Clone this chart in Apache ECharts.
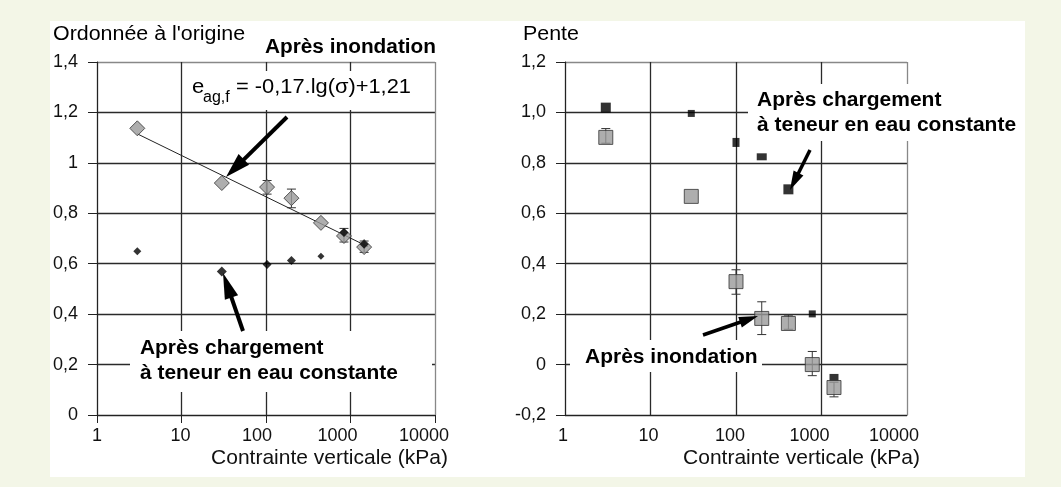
<!DOCTYPE html>
<html>
<head>
<meta charset="utf-8">
<script src="https://cdn.jsdelivr.net/npm/echarts@6/dist/echarts.min.js"></script>
<style>
html, body { margin: 0; padding: 0; background: #f3f6e7; }
#fond { position: absolute; left: 50px; top: 21px; width: 975px; height: 456px; background: #fff; }
#main { position: absolute; left: 0; top: 0; width: 1061px; height: 487px; }
</style>
</head>
<body>
<div id="fond"></div>
<div id="main"></div>
<script>
// contrainte verticale (kPa), lue sur chaque graphique
var sigmaGauche = [3, 30, 103, 200, 447, 837, 1450];
var sigmaDroite = [3, 30, 100, 200, 410, 780, 1400];

// ordonnee a l'origine
var ordInondation = [1.137, 0.920, 0.904, 0.860, 0.762, 0.710, 0.666];
var ordInondBas   = [null, null, 0.876, 0.822, null, 0.686, 0.645];
var ordInondHaut  = [null, null, 0.930, 0.896, null, 0.740, 0.690];
var ordChargement = [0.649, 0.569, 0.597, 0.613, 0.630, 0.724, 0.677];
var ordChargTaille = [8, 10, 9, 9, 7, 9, 9];
// droite de regression e = -0,17.lg(sigma)+1,21
var droiteX = [3, 1600];
var droiteY = [1.115, 0.668];

// pente
var penteInondation = [0.901, 0.667, 0.329, 0.183, 0.163, 0.0, -0.091];
var penteInondBas   = [0.878, null, 0.279, 0.119, 0.140, -0.044, -0.128];
var penteInondHaut  = [0.936, null, 0.376, 0.249, 0.196, 0.052, -0.070];
var penteChargement = [1.019, 0.996, 0.881, 0.824, 0.695, 0.201, -0.051];
var penteChargTaille = [[10, 10], [7, 7], [7, 9], [10, 7], [10, 10], [7, 7], [9, 7]];

// graduations
var xLabels = ['1', '10', '100', '1000', '10000'];
var ordLabels = ['0', '0,2', '0,4', '0,6', '0,8', '1', '1,2', '1,4'];
var penteLabels = ['-0,2', '0', '0,2', '0,4', '0,6', '0,8', '1,0', '1,2'];

var police = 'Liberation Sans, Arial, Helvetica, sans-serif';

function points(xs, ys, tailles) {
    var out = [];
    for (var i = 0; i < xs.length; i++) {
        var d = { value: [xs[i], ys[i]] };
        if (tailles) d.symbolSize = tailles[i];
        out.push(d);
    }
    return out;
}

function erreurs(xs, bas, haut) {
    var out = [];
    for (var i = 0; i < xs.length; i++) {
        if (bas[i] !== null) out.push([xs[i], bas[i], haut[i]]);
    }
    return out;
}

function barreErreur(params, api) {
    var x = api.value(0);
    var h = api.coord([x, api.value(2)]);
    var b = api.coord([x, api.value(1)]);
    var w = 4.5;
    var st = { stroke: '#333', lineWidth: 1 };
    return {
        type: 'group',
        children: [
            { type: 'line', shape: { x1: h[0], y1: h[1], x2: b[0], y2: b[1] }, style: st },
            { type: 'line', shape: { x1: h[0] - w, y1: h[1], x2: h[0] + w, y2: h[1] }, style: st },
            { type: 'line', shape: { x1: b[0] - w, y1: b[1], x2: b[0] + w, y2: b[1] }, style: st }
        ]
    };
}

function fleche(x1, y1, x2, y2, lw, hl, hw) {
    var dx = x2 - x1, dy = y2 - y1;
    var L = Math.sqrt(dx * dx + dy * dy);
    var ux = dx / L, uy = dy / L;
    var bx = x2 - ux * hl, by = y2 - uy * hl;
    return [
        { type: 'line', z: 20, shape: { x1: x1, y1: y1, x2: bx + ux * 3, y2: by + uy * 3 },
          style: { stroke: '#000', lineWidth: lw } },
        { type: 'polygon', z: 20,
          shape: { points: [[x2, y2], [bx - uy * hw / 2, by + ux * hw / 2], [bx + uy * hw / 2, by - ux * hw / 2]] },
          style: { fill: '#000' } }
    ];
}

function boite(x, y, w, h) {
    return { type: 'rect', z: 15, shape: { x: x, y: y, width: w, height: h }, style: { fill: '#fff' } };
}

function texte(t, x, y, taille, gras, sx, align) {
    return {
        type: 'text', z: 20, x: x, y: y, scaleX: sx,
        style: {
            text: t, fontFamily: police, fontSize: taille, fontWeight: gras ? 'bold' : 'normal',
            fill: '#000', align: align || 'left', verticalAlign: 'middle'
        }
    };
}

// petits decalages des etiquettes de l'axe x, comme sur l'original
function axeX(idx, tick, decalages) {
    var rich = {};
    for (var k = 0; k < decalages.length; k++) {
        rich['o' + k] = { fontFamily: police, fontSize: 18, color: '#111', padding: [0, 2 * decalages[k], 0, 0] };
    }
    return {
        type: 'log', logBase: 10, gridIndex: idx, min: 1, max: 10000,
        name: 'Contrainte verticale (kPa)', nameLocation: 'end', nameGap: 13,
        nameMoveOverlap: false,
        nameTextStyle: { fontFamily: police, fontSize: 21, color: '#111', align: 'right',
                         verticalAlign: 'top', padding: [33, 0, 0, 0] },
        axisLine: { onZero: false, lineStyle: { color: '#222', width: 1 } },
        axisTick: { show: true, length: 8, lineStyle: { color: tick ? '#222' : 'rgba(0,0,0,0)' } },
        axisLabel: { fontFamily: police, fontSize: 18, color: '#111', margin: 12,
                     showMinLabel: true, showMaxLabel: true, hideOverlap: false, rich: rich,
                     formatter: function (v, i) { return '{o' + i + '|' + xLabels[i] + '}'; } },
        splitLine: { show: true, lineStyle: { color: ['#2a2a2a', '#2a2a2a', '#2a2a2a', '#2a2a2a', '#888'], width: 1.3 } },
        minorTick: { show: false }
    };
}

function axeY(idx, mini, maxi, labels) {
    return {
        type: 'value', gridIndex: idx, min: mini, max: maxi, interval: 0.2,
        axisLine: { show: true, onZero: false, lineStyle: { color: '#222', width: 1 } },
        axisTick: { show: true, length: 9, lineStyle: { color: '#222' } },
        axisLabel: { fontFamily: police, fontSize: 18, color: '#111', margin: 19,
                     formatter: function (v, i) { return labels[i]; } },
        splitLine: { show: true, lineStyle: { color: ['#2a2a2a', '#2a2a2a', '#2a2a2a', '#2a2a2a', '#2a2a2a', '#2a2a2a', '#2a2a2a', '#888'], width: 1.3 } }
    };
}

var grisSymbole = { color: '#9a9a9a', borderColor: '#333', borderWidth: 1 };

var graphiques = [].concat(
    [
        texte("Ordonnée à l'origine", 53, 34, 20, false, 1.07),
        texte('Pente', 523, 34, 20, false, 1.07),
        texte('Après inondation', 436, 47, 20, true, 1.04, 'right'),
        boite(184, 71, 236, 39),
        texte('e', 192, 87, 21, false, 1.05),
        texte('ag,f', 203, 98, 16, false, 1.0),
        texte('= -0,17.lg(σ)+1,21', 236, 87, 21, false, 1.04),
        boite(130, 331, 302, 61),
        texte('Après chargement', 140, 348, 20, true, 1.045),
        texte('à teneur en eau constante', 140, 373, 20, true, 1.045),
        boite(748, 84, 276, 57),
        texte('Après chargement', 757, 100, 20, true, 1.05),
        texte('à teneur en eau constante', 757, 125, 20, true, 1.05),
        boite(570, 340, 192, 32),
        texte('Après inondation', 585, 357, 20, true, 1.05)
    ],
    fleche(287, 117, 226, 177, 4, 25, 15),
    fleche(243, 331, 223, 273, 4, 26, 14),
    fleche(810, 150, 790, 190, 3.5, 19, 11),
    fleche(703, 335, 758, 316, 3.5, 19, 11)
);

var myChart = echarts.init(document.getElementById('main'));
var option = {
    backgroundColor: 'transparent',
    animation: false,
    grid: [
        { left: 97, top: 62, width: 338, height: 353 },
        { left: 565, top: 62, width: 342, height: 353 }
    ],
    xAxis: [axeX(0, true, [0, 1, 9, 13, 11]), axeX(1, false, [2, 2, 6, 12, 13])],
    yAxis: [axeY(0, 0, 1.4, ordLabels), axeY(1, -0.2, 1.2, penteLabels)],
    series: [
        {
            type: 'line', xAxisIndex: 0, yAxisIndex: 0, z: 3,
            data: points(droiteX, droiteY), showSymbol: false, symbol: 'none',
            lineStyle: { color: '#222', width: 1 }
        },
        {
            type: 'custom', xAxisIndex: 0, yAxisIndex: 0, z: 3,
            renderItem: barreErreur, encode: { x: 0, y: [1, 2] },
            data: erreurs(sigmaGauche, ordInondBas, ordInondHaut)
        },
        {
            name: 'Après inondation', type: 'scatter', xAxisIndex: 0, yAxisIndex: 0, z: 4,
            symbol: 'diamond', symbolSize: 15, itemStyle: grisSymbole,
            data: points(sigmaGauche, ordInondation)
        },
        {
            name: 'Après chargement à teneur en eau constante', type: 'scatter', xAxisIndex: 0, yAxisIndex: 0, z: 5,
            symbol: 'diamond', itemStyle: { color: '#000' },
            data: points(sigmaGauche, ordChargement, ordChargTaille)
        },
        {
            name: 'Après chargement à teneur en eau constante', type: 'scatter', xAxisIndex: 1, yAxisIndex: 1, z: 3,
            symbol: 'rect', itemStyle: { color: '#000' },
            data: points(sigmaDroite, penteChargement, penteChargTaille)
        },
        {
            type: 'custom', xAxisIndex: 1, yAxisIndex: 1, z: 4,
            renderItem: barreErreur, encode: { x: 0, y: [1, 2] },
            data: erreurs(sigmaDroite, penteInondBas, penteInondHaut)
        },
        {
            name: 'Après inondation', type: 'scatter', xAxisIndex: 1, yAxisIndex: 1, z: 5,
            symbol: 'rect', symbolSize: 14, itemStyle: grisSymbole,
            data: points(sigmaDroite, penteInondation)
        }
    ],
    graphic: graphiques
};
myChart.setOption(option);
</script>
</body>
</html>
